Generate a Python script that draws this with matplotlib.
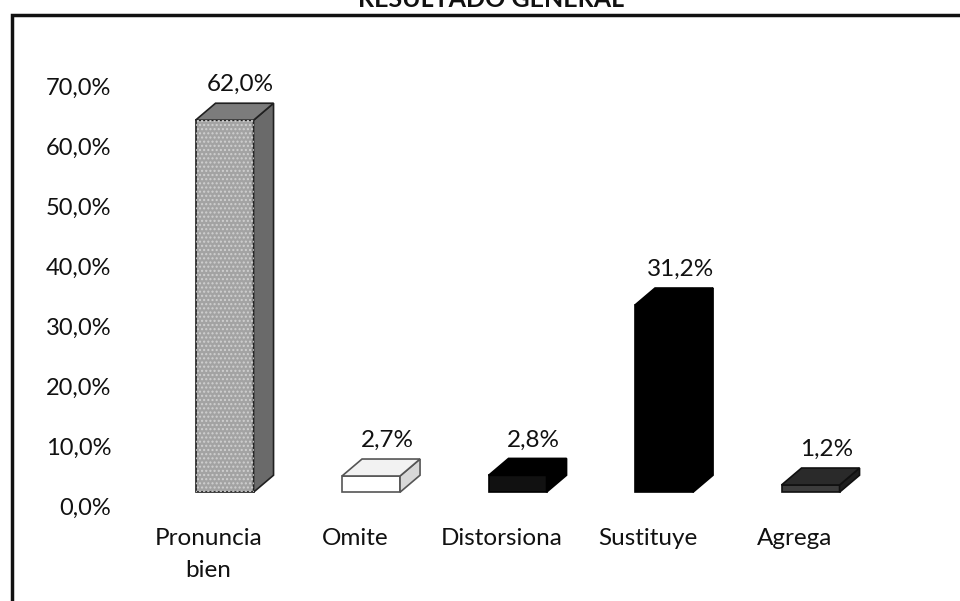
import matplotlib
matplotlib.use("Agg")
import matplotlib.pyplot as plt
from matplotlib.patches import Polygon, Rectangle
import numpy as np

categories = ["Pronuncia\nbien", "Omite", "Distorsiona", "Sustituye", "Agrega"]
values = [62.0, 2.7, 2.8, 31.2, 1.2]
value_labels = ["62,0%", "2,7%", "2,8%", "31,2%", "1,2%"]
yticks = [0, 10, 20, 30, 40, 50, 60, 70]
ytick_labels = ["0,0%", "10,0%", "20,0%", "30,0%", "40,0%", "50,0%", "60,0%", "70,0%"]

# front / top / side colours of each bar (scanned grey look)
front_colors = ["#a3a3a3", "#ffffff", "#111111", "#000000", "#3c3c3c"]
top_colors = ["#7c7c7c", "#f2f2f2", "#000000", "#000000", "#2a2a2a"]
side_colors = ["#6a6a6a", "#d8d8d8", "#000000", "#000000", "#1e1e1e"]
edge_colors = ["#202020", "#555555", "#000000", "#000000", "#101010"]

W, H = 960, 601
plt.rcParams["font.family"] = ["Lato", "DejaVu Sans"]

fig = plt.figure(figsize=(W / 100, H / 100), dpi=100)

# axes in pixel terms: category 0 at x=226, 146.5 px per category, 6 px per %
left_px, right_px = 152.75, 885.25
bottom_px, top_px = 520, 60          # from the top of the figure
zero_px = 506
ax = fig.add_axes([left_px / W, 1 - bottom_px / H,
                   (right_px - left_px) / W, (bottom_px - top_px) / H])
ax.set_xlim(-0.5, 4.5)
ax.set_ylim(-(bottom_px - zero_px) / 6, (zero_px - top_px) / 6)

FLOOR = 2.3       # bars stand a little above the 0 label (3D perspective)
BAR_W = 0.396
DX, DY = 0.1365, 2.83

x = np.arange(len(values))
for i, v in enumerate(values):
    x0 = x[i] - BAR_W / 2 - 0.01
    x1 = x0 + BAR_W
    b, t = FLOOR, FLOOR + v
    front = Polygon([(x0, b), (x1, b), (x1, t), (x0, t)], closed=True,
                    facecolor=front_colors[i], edgecolor=edge_colors[i], lw=1.2, zorder=3)
    top = Polygon([(x0, t), (x1, t), (x1 + DX, t + DY), (x0 + DX, t + DY)], closed=True,
                  facecolor=top_colors[i], edgecolor=edge_colors[i], lw=1.2, zorder=3)
    side = Polygon([(x1, b), (x1 + DX, b + DY), (x1 + DX, t + DY), (x1, t)], closed=True,
                   facecolor=side_colors[i], edgecolor=edge_colors[i], lw=1.2, zorder=3)
    for p in (front, side, top):
        ax.add_patch(p)
    if i == 0:
        # speckled texture on the grey bar
        ax.add_patch(Polygon(front.get_xy(), closed=True, facecolor="none",
                             edgecolor="#d0d0d0", hatch="....", lw=0, zorder=4))
    ax.text(x[i] + 0.1, t + 5.9, value_labels[i], ha="center", va="center",
            fontsize=17.5, color="#111111", zorder=5)

ax.set_yticks(yticks, ytick_labels, fontsize=17)
ax.set_xticks(x - 0.12, categories, fontsize=17.5, linespacing=1.65)
ax.tick_params(axis="y", length=0, pad=30, colors="#111111")
ax.tick_params(axis="x", length=0, pad=6, colors="#111111")
for s in ax.spines.values():
    s.set_visible(False)

# chart frame (left and top edges visible, rest cut off by the scan)
fig.add_artist(Rectangle((12 / W, -0.1), 1.2, (H - 15) / H + 0.1,
                         transform=fig.transFigure, fill=False,
                         edgecolor="#111111", lw=2.5))
fig.text(491 / W, 1 - 7 / H, "RESULTADO GENERAL", ha="center", va="baseline",
         fontsize=18, fontweight="bold", color="#111111")

fig.savefig("out.png", dpi=100)
